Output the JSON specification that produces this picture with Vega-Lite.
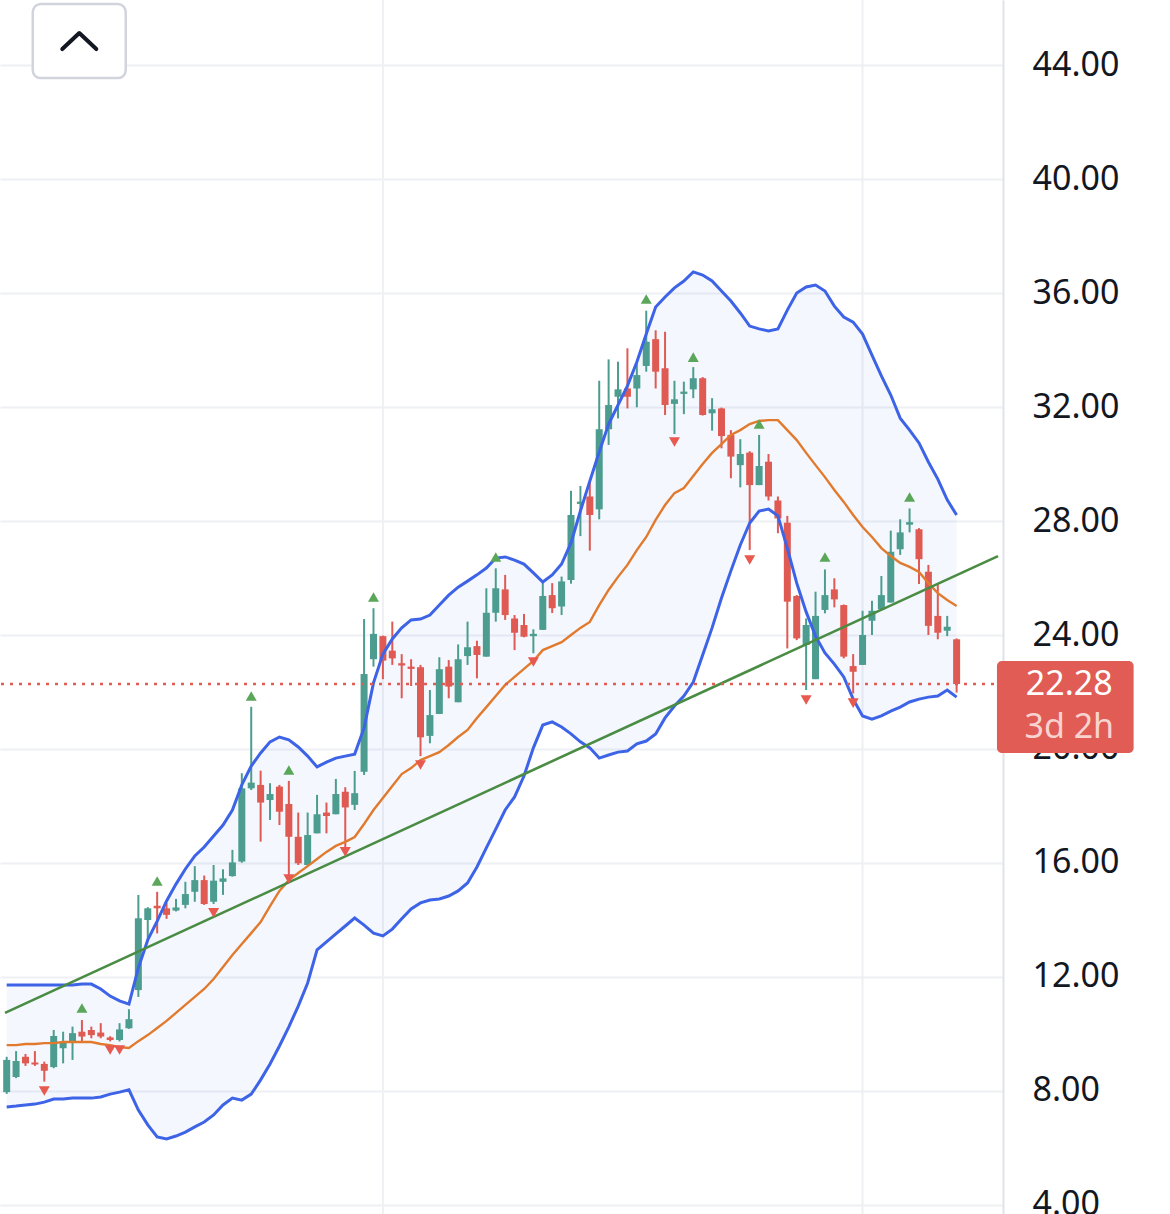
{
  "$schema": "https://vega.github.io/schema/vega-lite/v6.json",
  "width": 1003,
  "height": 1214,
  "autosize": {"type": "none"},
  "padding": {"left": 0, "top": 0, "right": 167, "bottom": 0},
  "background": "#ffffff",
  "config": {"view": {"stroke": null}},
  "datasets": {
    "candles": [
      {"i":0,"o":7.96,"h":9.2,"l":7.9,"c":9.09},
      {"i":1,"o":8.49,"h":9.4,"l":8.45,"c":9.05},
      {"i":2,"o":9.2,"h":9.3,"l":8.88,"c":8.97},
      {"i":3,"o":9.0,"h":9.4,"l":8.88,"c":8.93},
      {"i":4,"o":8.95,"h":9.03,"l":8.33,"c":8.71},
      {"i":5,"o":8.84,"h":10.14,"l":8.8,"c":9.93},
      {"i":6,"o":9.5,"h":10.08,"l":8.97,"c":9.73},
      {"i":7,"o":9.73,"h":10.26,"l":9.09,"c":10.03},
      {"i":8,"o":10.08,"h":10.49,"l":9.73,"c":9.91},
      {"i":9,"o":10.14,"h":10.26,"l":9.85,"c":9.96},
      {"i":10,"o":10.05,"h":10.38,"l":9.85,"c":9.91},
      {"i":11,"o":9.88,"h":9.92,"l":9.74,"c":9.79},
      {"i":12,"o":9.79,"h":10.38,"l":9.74,"c":10.16},
      {"i":13,"o":10.2,"h":10.87,"l":10.18,"c":10.52},
      {"i":14,"o":11.54,"h":14.88,"l":11.3,"c":14.06},
      {"i":15,"o":14.0,"h":14.45,"l":13.3,"c":14.41},
      {"i":16,"o":14.5,"h":14.99,"l":13.53,"c":14.41},
      {"i":17,"o":14.41,"h":14.6,"l":14.04,"c":14.18},
      {"i":18,"o":14.33,"h":14.74,"l":14.3,"c":14.44},
      {"i":19,"o":14.53,"h":15.34,"l":14.41,"c":14.91},
      {"i":20,"o":14.99,"h":15.89,"l":14.64,"c":15.4},
      {"i":21,"o":15.4,"h":15.56,"l":14.53,"c":14.56},
      {"i":22,"o":14.64,"h":15.93,"l":14.56,"c":15.38},
      {"i":23,"o":15.34,"h":15.78,"l":14.88,"c":15.46},
      {"i":24,"o":15.54,"h":16.46,"l":15.52,"c":16.02},
      {"i":25,"o":16.05,"h":19.15,"l":16.01,"c":18.62},
      {"i":26,"o":18.62,"h":21.48,"l":18.56,"c":18.82},
      {"i":27,"o":18.74,"h":19.24,"l":16.75,"c":18.12},
      {"i":28,"o":18.21,"h":18.8,"l":17.51,"c":18.42},
      {"i":29,"o":18.68,"h":18.74,"l":17.33,"c":17.8},
      {"i":30,"o":18.07,"h":18.88,"l":15.43,"c":16.92},
      {"i":31,"o":16.92,"h":17.77,"l":15.93,"c":15.99},
      {"i":32,"o":15.93,"h":17.77,"l":15.9,"c":16.98},
      {"i":33,"o":17.04,"h":18.39,"l":17.04,"c":17.71},
      {"i":34,"o":17.77,"h":18.12,"l":17.04,"c":17.65},
      {"i":35,"o":17.71,"h":18.95,"l":17.71,"c":18.42},
      {"i":36,"o":18.5,"h":18.66,"l":16.4,"c":17.95},
      {"i":37,"o":18.04,"h":19.23,"l":17.86,"c":18.45},
      {"i":38,"o":19.2,"h":24.56,"l":19.09,"c":22.63},
      {"i":39,"o":23.15,"h":24.94,"l":22.89,"c":24.04},
      {"i":40,"o":23.96,"h":23.98,"l":22.45,"c":23.1},
      {"i":41,"o":23.45,"h":24.47,"l":22.95,"c":23.18},
      {"i":42,"o":23.01,"h":23.33,"l":21.78,"c":22.93},
      {"i":43,"o":22.89,"h":23.15,"l":22.21,"c":22.81},
      {"i":44,"o":22.87,"h":22.95,"l":19.75,"c":20.41},
      {"i":45,"o":20.46,"h":22.07,"l":20.2,"c":21.19},
      {"i":46,"o":21.23,"h":23.22,"l":21.23,"c":22.8},
      {"i":47,"o":22.89,"h":23.12,"l":21.78,"c":22.19},
      {"i":48,"o":21.64,"h":23.67,"l":21.64,"c":23.15},
      {"i":49,"o":23.26,"h":24.47,"l":22.95,"c":23.57},
      {"i":50,"o":23.61,"h":23.8,"l":22.48,"c":23.3},
      {"i":51,"o":23.24,"h":25.64,"l":23.24,"c":24.78},
      {"i":52,"o":24.78,"h":26.34,"l":24.47,"c":25.64},
      {"i":53,"o":25.6,"h":26.11,"l":24.53,"c":24.7},
      {"i":54,"o":24.58,"h":24.7,"l":23.47,"c":24.08},
      {"i":55,"o":24.35,"h":24.74,"l":23.92,"c":23.94},
      {"i":56,"o":23.96,"h":24.2,"l":23.36,"c":24.04},
      {"i":57,"o":24.18,"h":25.91,"l":24.18,"c":25.37},
      {"i":58,"o":25.4,"h":25.82,"l":24.77,"c":24.94},
      {"i":59,"o":25.0,"h":26.05,"l":24.7,"c":25.88},
      {"i":60,"o":25.93,"h":29.06,"l":25.8,"c":28.21},
      {"i":61,"o":28.6,"h":29.23,"l":27.47,"c":28.68},
      {"i":62,"o":28.86,"h":29.38,"l":26.96,"c":28.21},
      {"i":63,"o":28.41,"h":32.92,"l":28.06,"c":31.22},
      {"i":64,"o":31.22,"h":33.67,"l":30.67,"c":32.07},
      {"i":65,"o":32.36,"h":33.59,"l":31.6,"c":32.62},
      {"i":66,"o":32.65,"h":34.06,"l":31.95,"c":32.36},
      {"i":67,"o":32.65,"h":33.53,"l":31.99,"c":33.12},
      {"i":68,"o":33.44,"h":35.38,"l":33.24,"c":34.29},
      {"i":69,"o":34.38,"h":34.69,"l":32.65,"c":33.24},
      {"i":70,"o":33.36,"h":34.64,"l":31.72,"c":32.07},
      {"i":71,"o":32.11,"h":32.92,"l":31.05,"c":32.27},
      {"i":72,"o":32.46,"h":32.89,"l":31.75,"c":32.54},
      {"i":73,"o":32.62,"h":33.4,"l":32.31,"c":33.01},
      {"i":74,"o":33.01,"h":33.05,"l":31.7,"c":31.72},
      {"i":75,"o":31.78,"h":32.31,"l":31.17,"c":31.92},
      {"i":76,"o":31.95,"h":31.98,"l":30.55,"c":30.98},
      {"i":77,"o":31.02,"h":31.19,"l":29.5,"c":30.26},
      {"i":78,"o":29.96,"h":30.87,"l":29.18,"c":30.35},
      {"i":79,"o":30.4,"h":30.45,"l":26.98,"c":29.26},
      {"i":80,"o":29.26,"h":31.02,"l":29.26,"c":29.93},
      {"i":81,"o":30.08,"h":30.35,"l":28.72,"c":28.86},
      {"i":82,"o":28.72,"h":28.86,"l":27.57,"c":28.09},
      {"i":83,"o":27.94,"h":28.18,"l":23.53,"c":25.17},
      {"i":84,"o":25.37,"h":25.4,"l":23.82,"c":23.88},
      {"i":85,"o":23.65,"h":24.58,"l":22.07,"c":24.35},
      {"i":86,"o":22.45,"h":25.52,"l":22.45,"c":24.67},
      {"i":87,"o":24.88,"h":26.3,"l":24.76,"c":25.4},
      {"i":88,"o":25.6,"h":25.99,"l":24.97,"c":25.25},
      {"i":89,"o":25.05,"h":25.07,"l":23.18,"c":23.24},
      {"i":90,"o":22.91,"h":23.33,"l":21.95,"c":22.71},
      {"i":91,"o":22.95,"h":24.85,"l":22.95,"c":24.0},
      {"i":92,"o":24.5,"h":25.2,"l":24.0,"c":24.85},
      {"i":93,"o":24.9,"h":26.07,"l":24.9,"c":25.4},
      {"i":94,"o":25.14,"h":27.66,"l":25.14,"c":26.92},
      {"i":95,"o":27.01,"h":28.06,"l":26.81,"c":27.6},
      {"i":96,"o":27.87,"h":28.44,"l":27.6,"c":27.96},
      {"i":97,"o":27.71,"h":27.75,"l":25.79,"c":26.66},
      {"i":98,"o":26.22,"h":26.46,"l":24.0,"c":24.32},
      {"i":99,"o":24.67,"h":25.79,"l":23.85,"c":24.08},
      {"i":100,"o":24.15,"h":24.67,"l":23.96,"c":24.29},
      {"i":101,"o":23.85,"h":23.88,"l":21.98,"c":22.28}
    ],
    "bands": [
      {"i":0,"up":11.72,"mid":9.61,"lo":7.44},
      {"i":1,"up":11.72,"mid":9.61,"lo":7.47},
      {"i":2,"up":11.72,"mid":9.65,"lo":7.51},
      {"i":3,"up":11.72,"mid":9.65,"lo":7.54},
      {"i":4,"up":11.72,"mid":9.68,"lo":7.61},
      {"i":5,"up":11.72,"mid":9.68,"lo":7.72},
      {"i":6,"up":11.72,"mid":9.72,"lo":7.72},
      {"i":7,"up":11.72,"mid":9.72,"lo":7.75},
      {"i":8,"up":11.75,"mid":9.72,"lo":7.75},
      {"i":9,"up":11.75,"mid":9.72,"lo":7.75},
      {"i":10,"up":11.58,"mid":9.65,"lo":7.79},
      {"i":11,"up":11.33,"mid":9.61,"lo":7.89},
      {"i":12,"up":11.16,"mid":9.54,"lo":7.96},
      {"i":13,"up":11.05,"mid":9.51,"lo":8.04},
      {"i":14,"up":12.32,"mid":9.75,"lo":7.33},
      {"i":15,"up":13.3,"mid":9.96,"lo":6.81},
      {"i":16,"up":13.96,"mid":10.21,"lo":6.39},
      {"i":17,"up":14.67,"mid":10.46,"lo":6.32},
      {"i":18,"up":15.26,"mid":10.74,"lo":6.42},
      {"i":19,"up":15.79,"mid":11.02,"lo":6.56},
      {"i":20,"up":16.25,"mid":11.3,"lo":6.74},
      {"i":21,"up":16.56,"mid":11.58,"lo":6.91},
      {"i":22,"up":16.95,"mid":11.93,"lo":7.16},
      {"i":23,"up":17.33,"mid":12.35,"lo":7.51},
      {"i":24,"up":17.86,"mid":12.77,"lo":7.75},
      {"i":25,"up":18.74,"mid":13.16,"lo":7.68},
      {"i":26,"up":19.4,"mid":13.54,"lo":7.89},
      {"i":27,"up":19.86,"mid":13.93,"lo":8.39},
      {"i":28,"up":20.25,"mid":14.49,"lo":8.95},
      {"i":29,"up":20.42,"mid":15.02,"lo":9.58},
      {"i":30,"up":20.32,"mid":15.4,"lo":10.25},
      {"i":31,"up":20.07,"mid":15.65,"lo":10.98},
      {"i":32,"up":19.75,"mid":15.89,"lo":11.79},
      {"i":33,"up":19.37,"mid":16.14,"lo":12.95},
      {"i":34,"up":19.54,"mid":16.39,"lo":13.23},
      {"i":35,"up":19.68,"mid":16.6,"lo":13.51},
      {"i":36,"up":19.75,"mid":16.74,"lo":13.79},
      {"i":37,"up":19.82,"mid":16.91,"lo":14.07},
      {"i":38,"up":20.74,"mid":17.37,"lo":13.82},
      {"i":39,"up":22.32,"mid":17.86,"lo":13.54},
      {"i":40,"up":23.33,"mid":18.28,"lo":13.44},
      {"i":41,"up":23.86,"mid":18.7,"lo":13.68},
      {"i":42,"up":24.25,"mid":19.12,"lo":14.04},
      {"i":43,"up":24.53,"mid":19.33,"lo":14.39},
      {"i":44,"up":24.56,"mid":19.61,"lo":14.6},
      {"i":45,"up":24.7,"mid":19.75,"lo":14.7},
      {"i":46,"up":25.05,"mid":19.89,"lo":14.74},
      {"i":47,"up":25.4,"mid":20.14,"lo":14.84},
      {"i":48,"up":25.68,"mid":20.42,"lo":15.02},
      {"i":49,"up":25.89,"mid":20.67,"lo":15.3},
      {"i":50,"up":26.11,"mid":21.09,"lo":15.86},
      {"i":51,"up":26.35,"mid":21.47,"lo":16.53},
      {"i":52,"up":26.7,"mid":21.86,"lo":17.19},
      {"i":53,"up":26.74,"mid":22.25,"lo":17.86},
      {"i":54,"up":26.63,"mid":22.53,"lo":18.32},
      {"i":55,"up":26.49,"mid":22.81,"lo":19.05},
      {"i":56,"up":26.18,"mid":23.09,"lo":20.04},
      {"i":57,"up":25.86,"mid":23.47,"lo":20.84},
      {"i":58,"up":26.11,"mid":23.61,"lo":20.95},
      {"i":59,"up":26.49,"mid":23.75,"lo":20.77},
      {"i":60,"up":27.23,"mid":24.0,"lo":20.53},
      {"i":61,"up":28.35,"mid":24.25,"lo":20.25},
      {"i":62,"up":29.4,"mid":24.46,"lo":20.04},
      {"i":63,"up":30.42,"mid":25.05,"lo":19.68},
      {"i":64,"up":31.4,"mid":25.58,"lo":19.79},
      {"i":65,"up":32.07,"mid":26.04,"lo":19.89},
      {"i":66,"up":32.74,"mid":26.46,"lo":19.93},
      {"i":67,"up":33.58,"mid":26.98,"lo":20.18},
      {"i":68,"up":34.56,"mid":27.44,"lo":20.28},
      {"i":69,"up":35.51,"mid":28.04,"lo":20.53},
      {"i":70,"up":35.86,"mid":28.56,"lo":21.09},
      {"i":71,"up":36.18,"mid":28.98,"lo":21.51},
      {"i":72,"up":36.42,"mid":29.16,"lo":21.86},
      {"i":73,"up":36.74,"mid":29.58,"lo":22.35},
      {"i":74,"up":36.63,"mid":30.0,"lo":23.3},
      {"i":75,"up":36.42,"mid":30.39,"lo":24.25},
      {"i":76,"up":36.07,"mid":30.7,"lo":25.3},
      {"i":77,"up":35.72,"mid":31.02,"lo":26.25},
      {"i":78,"up":35.3,"mid":31.19,"lo":27.16},
      {"i":79,"up":34.84,"mid":31.4,"lo":27.93},
      {"i":80,"up":34.74,"mid":31.51,"lo":28.35},
      {"i":81,"up":34.67,"mid":31.54,"lo":28.42},
      {"i":82,"up":34.74,"mid":31.54,"lo":28.18},
      {"i":83,"up":35.4,"mid":31.19,"lo":27.05},
      {"i":84,"up":36.0,"mid":30.84,"lo":25.82},
      {"i":85,"up":36.21,"mid":30.39,"lo":24.81},
      {"i":86,"up":36.28,"mid":29.96,"lo":23.96},
      {"i":87,"up":36.07,"mid":29.54,"lo":23.37},
      {"i":88,"up":35.54,"mid":29.09,"lo":22.98},
      {"i":89,"up":35.16,"mid":28.67,"lo":22.53},
      {"i":90,"up":34.98,"mid":28.21,"lo":21.75},
      {"i":91,"up":34.56,"mid":27.79,"lo":21.16},
      {"i":92,"up":33.82,"mid":27.44,"lo":21.05},
      {"i":93,"up":33.09,"mid":27.05,"lo":21.16},
      {"i":94,"up":32.42,"mid":26.77,"lo":21.33},
      {"i":95,"up":31.61,"mid":26.53,"lo":21.47},
      {"i":96,"up":31.19,"mid":26.39,"lo":21.65},
      {"i":97,"up":30.74,"mid":26.21,"lo":21.75},
      {"i":98,"up":30.07,"mid":25.82,"lo":21.82},
      {"i":99,"up":29.47,"mid":25.47,"lo":21.86},
      {"i":100,"up":28.74,"mid":25.23,"lo":22.07},
      {"i":101,"up":28.21,"mid":25.02,"lo":21.82}
    ],
    "signals": [
      {"i":8,"v":10.91,"dir":"up"},
      {"i":16,"v":15.37,"dir":"up"},
      {"i":26,"v":21.86,"dir":"up"},
      {"i":30,"v":19.26,"dir":"up"},
      {"i":39,"v":25.33,"dir":"up"},
      {"i":52,"v":26.74,"dir":"up"},
      {"i":68,"v":35.79,"dir":"up"},
      {"i":73,"v":33.75,"dir":"up"},
      {"i":80,"v":31.4,"dir":"up"},
      {"i":87,"v":26.74,"dir":"up"},
      {"i":96,"v":28.84,"dir":"up"},
      {"i":4,"v":8.0,"dir":"down"},
      {"i":11,"v":9.44,"dir":"down"},
      {"i":12,"v":9.44,"dir":"down"},
      {"i":22,"v":14.25,"dir":"down"},
      {"i":30,"v":15.44,"dir":"down"},
      {"i":36,"v":16.39,"dir":"down"},
      {"i":44,"v":19.44,"dir":"down"},
      {"i":56,"v":23.05,"dir":"down"},
      {"i":71,"v":30.77,"dir":"down"},
      {"i":79,"v":26.63,"dir":"down"},
      {"i":85,"v":21.72,"dir":"down"},
      {"i":90,"v":21.61,"dir":"down"}
    ],
    "trend": [
      {"i":-0.179,"v":10.74},
      {"i":105.4,"v":26.77}
    ],
    "last": [
      {"price":22.28,"label":"22.28","remaining":"3d 2h"}
    ]
  },
  "layer": [
    {
      "data": {"values": [{"t": 40}, {"t": 91}]},
      "mark": {"type": "rule", "color": "#eef0f4", "strokeWidth": 2},
      "encoding": {
        "x": {"field": "t", "type": "quantitative", "scale": {"domain": [-0.179, 105.4], "nice": false, "zero": false}, "axis": null}
      }
    },
    {
      "data": {"name": "bands"},
      "mark": {"type": "area", "color": "#3060d0", "opacity": 0.05},
      "encoding": {
        "x": {"field": "i", "type": "quantitative", "scale": {"domain": [-0.179, 105.4], "nice": false, "zero": false}, "axis": null},
        "y": {"field": "up", "type": "quantitative", "scale": {"domain": [3.684, 46.281], "nice": false, "zero": false},
          "axis": {"orient": "right", "values": [4,8,12,16,20,24,28,32,36,40,44], "format": ".2f", "title": null,
            "ticks": false, "labelPadding": 29, "labelAlign": "left", "labelBaseline": "middle",
            "labelFont": "Noto Sans", "labelFontSize": 34, "labelColor": "#131722",
            "labelOverlap": false, "labelBound": false, "labelFlush": false,
            "domainColor": "#e0e3eb", "domainWidth": 2,
            "grid": true, "gridColor": "#eef0f4", "gridWidth": 2}},
        "y2": {"field": "lo"}
      }
    },
    {
      "data": {"name": "candles"},
      "mark": {"type": "rule", "strokeWidth": 2},
      "encoding": {
        "x": {"field": "i", "type": "quantitative"},
        "y": {"field": "l", "type": "quantitative"},
        "y2": {"field": "h"},
        "color": {"condition": {"test": "datum.c >= datum.o", "value": "#4c9d8f"}, "value": "#df5a53"}
      }
    },
    {
      "data": {"name": "candles"},
      "mark": {"type": "bar", "width": 7},
      "encoding": {
        "x": {"field": "i", "type": "quantitative"},
        "y": {"field": "o", "type": "quantitative"},
        "y2": {"field": "c"},
        "color": {"condition": {"test": "datum.c >= datum.o", "value": "#4c9d8f"}, "value": "#df5a53"}
      }
    },
    {
      "data": {"name": "bands"},
      "mark": {"type": "line", "color": "#e27a2e", "strokeWidth": 2.4},
      "encoding": {
        "x": {"field": "i", "type": "quantitative"},
        "y": {"field": "mid", "type": "quantitative"}
      }
    },
    {
      "data": {"name": "bands"},
      "mark": {"type": "line", "color": "#3d63e6", "strokeWidth": 3},
      "encoding": {
        "x": {"field": "i", "type": "quantitative"},
        "y": {"field": "up", "type": "quantitative"}
      }
    },
    {
      "data": {"name": "bands"},
      "mark": {"type": "line", "color": "#3d63e6", "strokeWidth": 3},
      "encoding": {
        "x": {"field": "i", "type": "quantitative"},
        "y": {"field": "lo", "type": "quantitative"}
      }
    },
    {
      "data": {"name": "trend"},
      "mark": {"type": "line", "color": "#4a8c44", "strokeWidth": 2.6},
      "encoding": {
        "x": {"field": "i", "type": "quantitative"},
        "y": {"field": "v", "type": "quantitative"}
      }
    },
    {
      "data": {"name": "signals"},
      "mark": {"type": "point", "filled": true, "size": 121, "opacity": 1},
      "encoding": {
        "x": {"field": "i", "type": "quantitative"},
        "y": {"field": "v", "type": "quantitative"},
        "shape": {"field": "dir", "type": "nominal", "scale": {"domain": ["up", "down"], "range": ["triangle-up", "triangle-down"]}, "legend": null},
        "color": {"field": "dir", "type": "nominal", "scale": {"domain": ["up", "down"], "range": ["#5aa75a", "#e8594f"]}, "legend": null}
      }
    },
    {
      "data": {"name": "last"},
      "mark": {"type": "rule", "color": "#e05c55", "strokeWidth": 2.5, "strokeDash": [3, 6]},
      "encoding": {
        "y": {"field": "price", "type": "quantitative"}
      }
    },
    {
      "data": {"name": "last"},
      "mark": {"type": "rect", "color": "#e05c55", "cornerRadius": 5},
      "encoding": {
        "x": {"datum": 105.29, "type": "quantitative"},
        "x2": {"datum": 119.82},
        "y": {"datum": 23.088, "type": "quantitative"},
        "y2": {"datum": 19.86}
      }
    },
    {
      "data": {"name": "last"},
      "mark": {"type": "text", "color": "#ffffff", "font": "Noto Sans", "fontSize": 34, "align": "center", "baseline": "middle"},
      "encoding": {
        "x": {"datum": 112.98, "type": "quantitative"},
        "y": {"datum": 22.23, "type": "quantitative"},
        "text": {"field": "label"}
      }
    },
    {
      "data": {"name": "last"},
      "mark": {"type": "text", "color": "#f8d3cf", "font": "Noto Sans", "fontSize": 34, "align": "center", "baseline": "middle"},
      "encoding": {
        "x": {"datum": 112.98, "type": "quantitative"},
        "y": {"datum": 20.74, "type": "quantitative"},
        "text": {"field": "remaining"}
      }
    },
    {
      "data": {"values": [{"button": "collapse"}]},
      "mark": {"type": "rect", "fill": "#ffffff", "stroke": "#d1d4dc", "strokeWidth": 2.5, "cornerRadius": 8},
      "encoding": {
        "x": {"datum": 2.77, "type": "quantitative"},
        "x2": {"datum": 12.66},
        "y": {"datum": 46.14, "type": "quantitative"},
        "y2": {"datum": 43.54}
      }
    },
    {
      "data": {"values": [{"button": "collapse"}]},
      "mark": {"type": "point", "shape": "M-1,0.47L0,-0.47L1,0.47", "filled": false, "size": 1156, "stroke": "#131722", "strokeWidth": 4, "strokeCap": "round", "strokeJoin": "round", "opacity": 1},
      "encoding": {
        "x": {"datum": 7.72, "type": "quantitative"},
        "y": {"datum": 44.84, "type": "quantitative"}
      }
    }
  ]
}
